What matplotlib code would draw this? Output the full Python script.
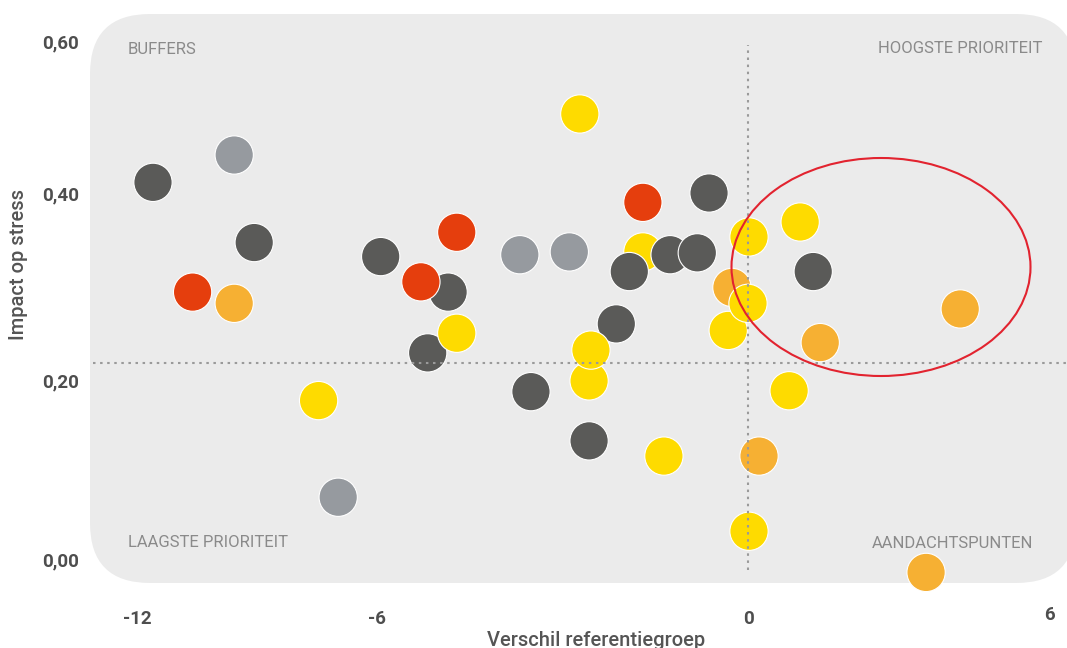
import numpy as np
import matplotlib

matplotlib.use("Agg")
import matplotlib.pyplot as plt  # noqa: E402
from matplotlib.patches import Ellipse, FancyBboxPatch  # noqa: E402
from matplotlib.transforms import Affine2D, blended_transform_factory  # noqa: E402

W, H = 1067, 648

# ---------------------------------------------------------------------------
# Data
# ---------------------------------------------------------------------------
# list order = drawing order (later points sit on top)
verschil = [
    -1.70, -0.26, -0.32, -2.57,                       # early yellow/orange
    -11.60, -9.07, -5.94, -4.85, -5.18, -3.51, -2.57,  # dark grey
    -2.13, -1.92, -1.26, -0.82, -0.63, 1.30,
    -9.57, -3.69, -2.89, -6.97,                        # light grey
    -10.61, -4.71, -5.29, -1.70,                       # red
    -9.57, 1.44, 4.23, 0.22, 3.55,                     # orange
    -2.72, 0.02, 1.04, 0.00, -4.71, -2.54,             # yellow
    -7.46, -1.36, 0.82, 0.02,
]
impact = [
    0.337, 0.299, 0.253, 0.199,
    0.414, 0.347, 0.332, 0.294, 0.229, 0.187, 0.132,
    0.260, 0.316, 0.334, 0.336, 0.400, 0.316,
    0.450, 0.334, 0.337, 0.069,
    0.294, 0.358, 0.305, 0.390,
    0.282, 0.240, 0.276, 0.115, -0.015,
    0.504, 0.353, 0.369, 0.282, 0.250, 0.232,
    0.177, 0.115, 0.188, 0.031,
]
groep = (
    ["geel", "oranje", "geel", "geel"]
    + ["donkergrijs"] * 13
    + ["grijs"] * 4
    + ["rood"] * 4
    + ["oranje"] * 5
    + ["geel"] * 10
)

x_ticks = [-12, -6, 0, 6]
y_ticks = [0.0, 0.2, 0.4, 0.6]
y_tick_labels = ["0,00", "0,20", "0,40", "0,60"]
gemiddelde_impact = 0.218

quadrant_labels = ["BUFFERS", "HOOGSTE PRIORITEIT", "LAAGSTE PRIORITEIT", "AANDACHTSPUNTEN"]

# ---------------------------------------------------------------------------
# Styling
# ---------------------------------------------------------------------------
COLORS = {
    "donkergrijs": "#5a5a58",
    "grijs": "#969a9f",
    "rood": "#e53e0d",
    "oranje": "#f6b033",
    "geel": "#fedb00",
}
PANEL_BG = "#ebebeb"
TICK_COLOR = "#4e4e4e"
LABEL_GREY = "#8a8a8a"
RING_RED = "#e2232f"

# the original axis is not linear: tick positions (in pixels) per value
X_PIX = [137, 377, 748, 1049]
Y_PIX = [559, 380, 193, 41]


def piecewise(src, dst):
    src = np.asarray(src, float)
    dst = np.asarray(dst, float)
    s0 = (dst[1] - dst[0]) / (src[1] - src[0])
    s1 = (dst[-1] - dst[-2]) / (src[-1] - src[-2])

    def f(v):
        v = np.asarray(v, float)
        out = np.interp(v, src, dst)
        out = np.where(v < src[0], dst[0] + (v - src[0]) * s0, out)
        out = np.where(v > src[-1], dst[-1] + (v - src[-1]) * s1, out)
        return out

    return f


fx = piecewise(x_ticks, X_PIX)
fx_inv = piecewise(X_PIX, x_ticks)
y_up = [H - p for p in Y_PIX]
fy = piecewise(y_ticks, y_up)
fy_inv = piecewise(y_up, y_ticks)

plt.rcParams["font.family"] = ["Roboto", "DejaVu Sans"]

fig = plt.figure(figsize=(W / 100, H / 100), dpi=100)
ax = fig.add_axes([0, 0, 1, 1])
ax.set_xscale("function", functions=(fx, fx_inv))
ax.set_yscale("function", functions=(fy, fy_inv))
ax.set_xlim(float(fx_inv(0)), float(fx_inv(W)))
ax.set_ylim(float(fy_inv(0)), float(fy_inv(H)))
ax.axis("off")

# pixel coordinates (origin top-left) for decoration
px = Affine2D().scale(1 / W, -1 / H).translate(0, 1) + ax.transAxes

ax.add_patch(
    FancyBboxPatch(
        (90, 14), 986, 569,
        boxstyle="round,pad=0,rounding_size=60",
        facecolor=PANEL_BG, edgecolor="none", transform=px, zorder=0,
    )
)

ax.scatter(
    verschil, impact,
    s=760, c=[COLORS[g] for g in groep],
    edgecolors="white", linewidths=0.8, zorder=2,
)

dots = dict(color="#9a9a9a", linewidth=1.5, linestyle=(0, (1.2, 2.2)), zorder=3)
ax.axvline(0, ymin=1 - 570 / H, ymax=1 - 45 / H, **dots)
ax.axhline(gemiddelde_impact, xmin=93 / W, xmax=1, **dots)

ax.add_patch(
    Ellipse((881, 267), 299, 218, facecolor="none", edgecolor=RING_RED,
            linewidth=1.5, transform=px, zorder=4)
)

# quadrant labels
q_kw = dict(transform=px, fontsize=12, color=LABEL_GREY, va="center_baseline")
ax.text(128, 48, quadrant_labels[0], ha="left", **q_kw)
ax.text(1042, 47, quadrant_labels[1], ha="right", **q_kw)
ax.text(128, 541, quadrant_labels[2], ha="left", **q_kw)
ax.text(1033, 542, quadrant_labels[3], ha="right", **q_kw)

# tick labels
xt = blended_transform_factory(ax.transData, px)
for v in x_ticks:
    ax.text(v, 613 if v == 6 else 617, str(v), transform=xt, ha="center",
            va="center_baseline", fontsize=13.5, fontweight="bold", color=TICK_COLOR)
yt = blended_transform_factory(px, ax.transData)
for v, lab in zip(y_ticks, y_tick_labels):
    ax.text(79, v, lab, transform=yt, ha="right", va="center_baseline",
            fontsize=13.5, fontweight="bold", color=TICK_COLOR)

ax.text(19, 265, "Impact op stress", transform=px, rotation=90, ha="center",
        va="center", fontsize=14.5, fontweight="medium", color="#555555")
ax.text(596, 646, "Verschil referentiegroep", transform=px, ha="center",
        va="baseline", fontsize=14.5, fontweight="medium", color="#555555")

fig.savefig("out.png", dpi=100)
